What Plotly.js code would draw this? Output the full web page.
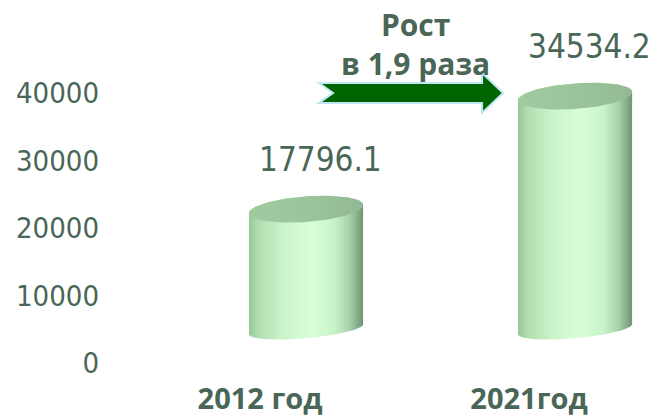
<!DOCTYPE html>
<html><head><meta charset="utf-8">
<script src="https://cdn.plot.ly/plotly-3.0.1.min.js"></script>
<style>html,body{margin:0;padding:0;background:#fff}#chart{width:666px;height:419px}</style>
</head><body><div id="chart"></div>
<script>
// ---- data ----
const categories = ['2012 год', '2021год'];
const values = [17796.1, 34534.2];
const yTickVals = [0, 10000, 20000, 30000, 40000];
const yTickText = ['0', '10000', '20000', '30000', '40000'];
const growthLines = ['Рост', 'в 1,9 раза'];

// ---- style / projection constants ----
const TEXT = '#4a6656';
const DX = 0.171, DEPTH = 5000;          // 3D depth offset of the cylinders
const HALF_W = 0.212;                    // cylinder half width (category units)
const TOP_B = 1900, TOP_TILT = 593;      // top ellipse (y units)
const BOT_B = 1330, BOT_TILT = 740;      // bottom ellipse
const N = 60;
const bodyScale = [[0,'#96c697'],[0.08,'#b0deb0'],[0.3,'#cbf4cb'],[0.55,'#d8fed8'],[0.75,'#c8f3c8'],[0.88,'#a8d1a9'],[0.95,'#87ae8a'],[1,'#6e9472']];

const traces = [];
values.forEach((v, i) => {
  const cx = i + DX, yb = DEPTH, yt = v + DEPTH;
  const bx = [], by = [];
  for (let k = 0; k <= N; k++) { const t = Math.PI + Math.PI * k / N;
    bx.push(cx + HALF_W * Math.cos(t)); by.push(yb + BOT_B * Math.sin(t) + BOT_TILT * Math.cos(t)); }
  for (let k = 0; k <= N; k++) { const t = Math.PI * k / N;
    bx.push(cx + HALF_W * Math.cos(t)); by.push(yt + TOP_B * Math.sin(t) + TOP_TILT * Math.cos(t)); }
  bx.push(bx[0]); by.push(by[0]);
  traces.push({type:'scatter', mode:'lines', x:bx, y:by, fill:'toself', line:{width:0, color:'rgba(0,0,0,0)'},
    fillcolor:'#c8f0c8', fillgradient:{type:'horizontal', colorscale:bodyScale}, hoverinfo:'skip', showlegend:false});
  const tx = [], ty = [];
  for (let k = 0; k <= 2*N; k++) { const t = 2 * Math.PI * k / (2*N);
    tx.push(cx + HALF_W * Math.cos(t)); ty.push(yt + TOP_B * Math.sin(t) + TOP_TILT * Math.cos(t)); }
  traces.push({type:'scatter', mode:'lines', x:tx, y:ty, fill:'toself', line:{width:0, color:'rgba(0,0,0,0)'},
    fillcolor:'#9dc59c', fillgradient:{type:'horizontal', colorscale:[[0,'#a0cb9f'],[0.6,'#9ac39a'],[1,'#92b993']]},
    hoverinfo:'skip', showlegend:false});
});

const annotations = values.map((v, i) => ({
  x: i + DX, y: v + DEPTH, xref:'x', yref:'y', text: v.toFixed(1), showarrow:false,
  xshift: 14, yshift: 50, font:{family:'DejaVu Sans Condensed, DejaVu Sans', size:33, color:TEXT}
}));
annotations.push({x:0.576, y:47259, xref:'x', yref:'y', text: growthLines.join('<br>'), showarrow:false,
  font:{family:'Open Sans', size:30, color:TEXT, weight:'bold'}});

// block arrow (decoration) in axis coordinates
const arrowPath = 'M 0.2193 41481 L 0.8253 41481 L 0.8253 42963 L 0.9033 40000 L 0.8253 37037 L 0.8253 38519 L 0.2193 38519 L 0.2714 40000 Z';

const layout = {
  width:666, height:419, margin:{l:100, r:0, t:0, b:45},
  paper_bgcolor:'#ffffff', plot_bgcolor:'#ffffff', showlegend:false,
  xaxis:{range:[-0.595, 1.509], tickvals:[0,1], ticktext:categories, showgrid:false, zeroline:false, showline:false,
    ticks:'', ticklabelstandoff:5, tickfont:{family:'Open Sans', size:29, color:TEXT, weight:'bold'}, fixedrange:true},
  yaxis:{range:[-1630, 53778], tickvals:yTickVals, ticktext:yTickText, showgrid:false, zeroline:false, showline:false,
    ticks:'', tickfont:{family:'DejaVu Sans Condensed, DejaVu Sans', size:29, color:TEXT}, fixedrange:true},
  shapes:[{type:'path', xref:'x', yref:'y', path:arrowPath, fillcolor:'#006400', line:{color:'#bfe6f5', width:2}, layer:'above'}],
  annotations: annotations
};
Plotly.newPlot('chart', traces, layout, {displayModeBar:false, staticPlot:true});
</script></body></html>
